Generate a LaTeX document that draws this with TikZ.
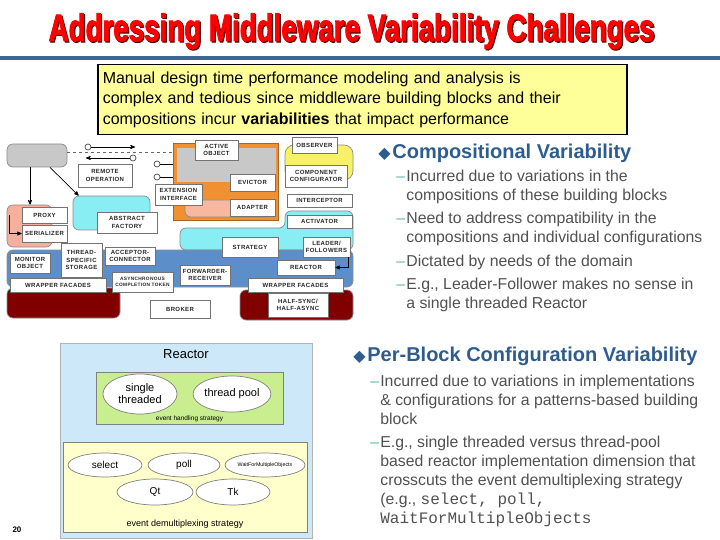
\documentclass[tikz,border=0pt]{standalone}
\usepackage{fontspec}
\setmainfont{Liberation Sans}
\setmonofont{Liberation Mono}
\newfontfamily\symfont{DejaVu Sans}
\newfontfamily\patfam[LetterSpace=6]{Liberation Sans}
\newfontfamily\titlefam[FakeBold=2.5]{Liberation Sans Bold}
\usetikzlibrary{shapes,arrows,positioning,calc}

\definecolor{titlered}{HTML}{FF0000}
\definecolor{titleshd}{HTML}{500000}
\definecolor{rulebl}{HTML}{3D6698}
\definecolor{notey}{HTML}{FFFF99}
\definecolor{headbl}{HTML}{2E5C8E}
\definecolor{bodygr}{HTML}{505050}
\definecolor{dashc}{HTML}{5DB3A6}
\definecolor{clientgr}{HTML}{C8C8C8}
\definecolor{colsalmon}{HTML}{F4B09C}
\definecolor{colcyan}{HTML}{88EEF4}
\definecolor{colorange}{HTML}{F09030}
\definecolor{aosalmon}{HTML}{F8B8A0}
\definecolor{colyellow}{HTML}{F8F068}
\definecolor{colblue}{HTML}{5C8FC9}
\definecolor{colmaroon}{HTML}{800000}
\definecolor{reactbg}{HTML}{CDE8F8}
\definecolor{greenbg}{HTML}{C8EE90}
\definecolor{demuxbg}{HTML}{FFFFCC}

\newcommand\patfont{\patfam\bfseries\fontsize{6}{7.2}\selectfont}
\newcommand\itemfont{\fontsize{15.8}{19}\selectfont}
\newcommand\headfont{\bfseries\fontsize{20}{22}\selectfont}
\newcommand\itemlines[1]{\begin{tabular}[t]{@{}l@{}}#1\end{tabular}}
\newcommand\codefont{\ttfamily\fontsize{16}{19}\selectfont}

\tikzstyle{pat} = [rectangle, draw=black!55, fill=white, font=\patfont, align=center, inner sep=0pt, text=black!85]
\tikzstyle{zone} = [rectangle, draw=black!45, rounded corners=6pt, inner sep=0pt]
\tikzstyle{port} = [circle, draw=black!70, fill=white, inner sep=0pt, minimum size=6pt]
\tikzstyle{impl} = [ellipse, draw=black!50, fill=white, inner sep=0pt]
\tikzstyle{head} = [anchor=base west, inner sep=0pt, font=\headfont, text=headbl]
\tikzstyle{headmark} = [anchor=base east, inner sep=0pt, font=\symfont\fontsize{16}{16}\selectfont, text=headbl]
\tikzstyle{item} = [anchor=base west, inner sep=0pt, font=\itemfont, text=bodygr]
\tikzstyle{itemdash} = [anchor=base west, inner sep=0pt, font=\itemfont, text=dashc]

\begin{document}
\begin{tikzpicture}[x=1pt, y=-1pt, >=stealth', line width=0.7pt]
    \useasboundingbox (0,0) rectangle (720,540);

    % title and rule
    \node[anchor=base, inner sep=0pt, text=titleshd] (titleshadow) at (352.7,42.2)
        {\scalebox{0.73}[1]{\titlefam\fontsize{38}{38}\selectfont Addressing Middleware Variability Challenges}};
    \node[anchor=base, inner sep=0pt, text=titlered] (title) at (351.5,41)
        {\scalebox{0.73}[1]{\titlefam\fontsize{38}{38}\selectfont Addressing Middleware Variability Challenges}};
    \draw[rulebl, line width=4pt] (0,58) -- (720,58);

    \node[draw, line width=1.5pt, fill=notey, anchor=north west, text width=519pt, align=left,
          inner xsep=5pt, inner ysep=7pt, minimum height=69pt, font=\fontsize{16}{20.5}\selectfont] (note) at (97,64)
        {Manual design time performance modeling and analysis is\\
         complex and tedious since middleware building blocks and their\\
         compositions incur \textbf{variabilities} that impact performance};

    % pattern language map
    \path[zone, fill=colcyan] (180,250) -- (180,228) -- (285,228) -- (285,211) -- (353,211) -- (353,250) -- cycle;
    \node[zone, fill=colblue, minimum width=346pt, minimum height=37pt] (hostbg) at (180,268.5) {};
    \node[zone, fill=colmaroon, minimum width=113pt, minimum height=30pt] (maroonl) at (63.5,303) {};
    \node[zone, fill=colmaroon, minimum width=113pt, minimum height=30pt] (maroonr) at (296.5,305) {};
    \node[zone, fill=clientgr, minimum width=60pt, minimum height=23pt] (client) at (37,155.5) {};
    \node[zone, fill=colsalmon, minimum width=45pt, minimum height=42pt] (proxybg) at (29.5,226) {};
    \node[zone, fill=colcyan, minimum width=77pt, minimum height=34pt] (afbg) at (111.5,213) {};
    \node[rectangle, draw=colorange!70!black, fill=colorange, minimum width=105pt, minimum height=77pt] (aobg) at (225.5,181.5) {};
    \node[rectangle, fill=clientgr, minimum width=99pt, minimum height=34pt] (aogray) at (226.5,165) {};
    \node[zone, fill=aosalmon, minimum width=88pt, minimum height=17pt] (aosalmonbg) at (229,208.5) {};
    \node[zone, rounded corners=9pt, fill=colyellow, minimum width=68pt, minimum height=35pt] (obsbg) at (319,162.5) {};

    \node[pat, minimum width=54pt, minimum height=23pt] (remote) at (105,175.5) {REMOTE\\OPERATION};
    \node[pat, minimum width=45pt, minimum height=16pt] (proxy) at (44.5,215) {PROXY};
    \node[pat, minimum width=45pt, minimum height=17pt] (serializer) at (44.5,233.5) {SERIALIZER};
    \node[pat, minimum width=60pt, minimum height=21pt] (absfactory) at (127,222.5) {ABSTRACT\\FACTORY};
    \node[pat, minimum width=43pt, minimum height=20pt] (activeobj) at (216.5,150) {ACTIVE\\OBJECT};
    \node[pat, minimum width=47pt, minimum height=21pt] (extiface) at (178.5,194.5) {EXTENSION\\INTERFACE};
    \node[pat, minimum width=45pt, minimum height=17pt] (evictor) at (252.5,182.5) {EVICTOR};
    \node[pat, minimum width=45pt, minimum height=17pt] (adapter) at (252.5,207.5) {ADAPTER};
    \node[pat, minimum width=45pt, minimum height=16pt] (observer) at (314.5,145) {OBSERVER};
    \node[pat, minimum width=62pt, minimum height=22pt] (compconf) at (316,176) {COMPONENT\\CONFIGURATOR};
    \node[pat, minimum width=65pt, minimum height=13pt] (interceptor) at (319.5,200.5) {INTERCEPTOR};
    \node[pat, minimum width=65pt, minimum height=13pt] (activator) at (319.5,221.5) {ACTIVATOR};
    \node[pat, minimum width=56pt, minimum height=20pt] (strategy) at (250,247) {STRATEGY};
    \node[pat, minimum width=47pt, minimum height=20pt] (leader) at (326.5,247) {LEADER/\\FOLLOWERS};
    \node[pat, minimum width=40pt, minimum height=20pt] (monitor) at (30,263) {MONITOR\\OBJECT};
    \node[pat, minimum width=41pt, minimum height=34pt] (tss) at (81.5,260) {THREAD-\\SPECIFIC\\STORAGE};
    \node[pat, minimum width=50pt, minimum height=18pt] (acceptor) at (130,256) {ACCEPTOR-\\CONNECTOR};
    \node[pat, minimum width=61pt, minimum height=20pt, font=\patfam\bfseries\fontsize{4.8}{6}\selectfont] (act) at (142.5,282) {ASYNCHRONOUS\\COMPLETION TOKEN};
    \node[pat, minimum width=50pt, minimum height=20pt] (forwarder) at (205,275) {FORWARDER-\\RECEIVER};
    \node[pat, minimum width=58pt, minimum height=15pt] (reactor) at (306,267.5) {REACTOR};
    \node[pat, minimum width=96pt, minimum height=14pt] (wrapperl) at (58,285) {WRAPPER FACADES};
    \node[pat, minimum width=60pt, minimum height=18pt] (broker) at (180,309) {BROKER};
    \node[pat, minimum width=95pt, minimum height=14pt] (wrapperr) at (295.5,285) {WRAPPER FACADES};
    \node[pat, minimum width=60pt, minimum height=24pt] (halfsync) at (298,305) {HALF-SYNC/\\HALF-ASYNC};

    \coordinate (dashy) at (0,152);
    \draw[dashed, black!60] (client.east |- dashy) -- (aobg.west |- dashy);
    \node[port] (rpin) at (88,147) {};
    \coordinate (rpinend) at (135,147);
    \draw[->] (rpin) -- (rpinend);
    \node[port] (rpout) at (133,158) {};
    \coordinate (rpoutend) at (86,158);
    \draw[->] (rpout) -- (rpoutend);
    \node[port] (aoport1) at (157,164) {};
    \draw (aoport1) -- (aoport1 -| aobg.west);
    \node[port] (aoport2) at (157,177) {};
    \draw (aoport2) -- (aoport2 -| aobg.west);
    \draw[->] ([xshift=-7pt]client.south) -- ([xshift=-7pt]client.south |- proxybg.north);
    \draw[->] ([xshift=13pt]client.south) -- ([xshift=6pt]afbg.north west);
    \draw[->] ([xshift=3pt]proxybg.west |- proxy) |- (serializer.west);
    \draw[->] ([xshift=-2pt]leader.south east) |- (reactor.east);

    % compositional variability
    \node[headmark] (composmark) at (391,159) {◆};
    \node[head] (compos) at (392,159) {Compositional Variability};
    \node[itemdash] (c1d) at (396,182) {--};
    \node[item] (c1) at (406,182) {\itemlines{Incurred due to variations in the\\compositions of these building blocks}};
    \node[itemdash] (c2d) at (396,224) {--};
    \node[item] (c2) at (406,224) {\itemlines{Need to address compatibility in the\\compositions and individual configurations}};
    \node[itemdash] (c3d) at (396,266) {--};
    \node[item] (c3) at (406,266) {Dictated by needs of the domain};
    \node[itemdash] (c4d) at (396,289) {--};
    \node[item] (c4) at (406,289) {\itemlines{E.g., Leader-Follower makes no sense in\\a single threaded Reactor}};

    % per-block configuration variability
    \node[headmark] (perblockmark) at (366,361) {◆};
    \node[head] (perblock) at (367,361) {Per-Block Configuration Variability};
    \node[itemdash] (p1d) at (370,386) {--};
    \node[item] (p1) at (380,386) {\itemlines{Incurred due to variations in implementations\\\& configurations for a patterns-based building\\block}};
    \node[itemdash] (p2d) at (370,447) {--};
    \node[item] (p2) at (380,447) {\itemlines{E.g., single threaded versus thread-pool\\based reactor implementation dimension that\\crosscuts the event demultiplexing strategy\\(e.g., {\codefont select, poll,}\\{\codefont WaitForMultipleObjects}}};

    % reactor configurations
    \node[rectangle, draw=black!30, fill=reactbg, minimum width=252pt, minimum height=195pt] (reactbox) at (186,440.5) {};
    \node[font=\fontsize{13}{13}\selectfont] (reacttitle) at (186,354) {Reactor};
    \node[rectangle, draw=black!50, fill=greenbg, minimum width=187pt, minimum height=52pt] (handling) at (189.5,398) {};
    \node[impl, minimum width=74pt, minimum height=40pt, align=center, font=\fontsize{11}{12}\selectfont] (single) at (140,394) {single\\threaded};
    \node[impl, minimum width=62pt, minimum height=36pt, font=\fontsize{11}{12}\selectfont] (pool) at (232,394) {thread pool};
    \node[font=\fontsize{6.5}{7}\selectfont] (handlinglbl) at (189.5,418.5) {event handling strategy};
    \node[rectangle, draw=black!50, fill=demuxbg, minimum width=244pt, minimum height=90pt] (demux) at (185,487) {};
    \node[impl, minimum width=74pt, minimum height=24pt, font=\fontsize{10}{10}\selectfont] (select) at (105,465) {select};
    \node[impl, minimum width=72pt, minimum height=24pt, font=\fontsize{10}{10}\selectfont] (poll) at (184,465) {poll};
    \node[impl, minimum width=80pt, minimum height=24pt, font=\fontsize{5.3}{6}\selectfont] (wfmo) at (265,465) {WaitForMultipleObjects};
    \node[impl, minimum width=76pt, minimum height=26pt, font=\fontsize{10}{10}\selectfont] (qt) at (155,492) {Qt};
    \node[impl, minimum width=74pt, minimum height=26pt, font=\fontsize{10}{10}\selectfont] (tk) at (233,492) {Tk};
    \node[font=\fontsize{9}{10}\selectfont] (demuxlbl) at (185,524) {event demultiplexing strategy};

    \node[font=\bfseries\fontsize{8}{8}\selectfont] (pagenum) at (17,530) {20};
\end{tikzpicture}
\end{document}
